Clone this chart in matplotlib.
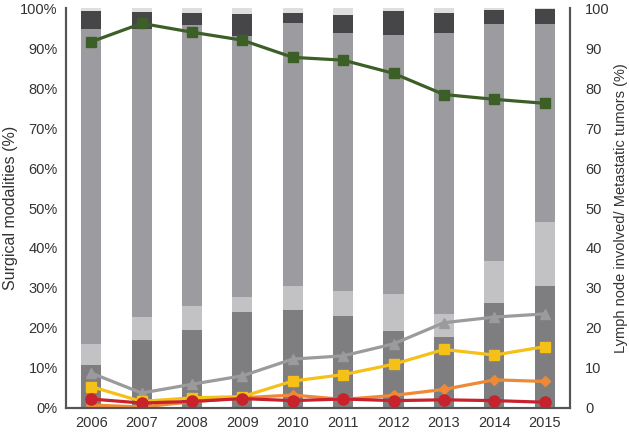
import numpy as np
from matplotlib import pyplot as plt

plt.rcParams['font.family'] = ['Liberation Sans', 'DejaVu Sans']

years = ['2006', '2007', '2008', '2009', '2010', '2011', '2012', '2013', '2014', '2015']

# stacked bar segments, cumulative tops (%)
top_dark = [10.6, 17.0, 19.5, 24.0, 24.5, 23.1, 19.1, 17.7, 26.2, 30.6]
top_light = [16.0, 22.7, 25.5, 27.8, 30.4, 29.3, 28.4, 23.5, 36.8, 46.5]
top_mid = [94.7, 94.8, 95.9, 93.1, 96.2, 93.9, 93.3, 93.8, 96.1, 96.1]
top_black = [99.4, 99.1, 98.7, 98.5, 98.9, 98.4, 99.2, 98.7, 99.5, 99.7]
top_pale = [100] * 10

# line series (right axis, %)
green = [91.6, 96.2, 94.0, 92.0, 87.7, 87.0, 83.7, 78.4, 77.2, 76.2]
grey = [8.7, 3.7, 5.9, 8.0, 12.2, 13.0, 16.0, 21.3, 22.7, 23.5]
yellow = [5.3, 1.6, 2.5, 2.8, 6.7, 8.3, 10.9, 14.6, 13.2, 15.3]
orange = [0.7, 0.2, 1.5, 2.5, 3.2, 2.1, 3.1, 4.6, 7.0, 6.6]
red = [2.2, 1.2, 1.6, 2.3, 1.8, 2.2, 1.8, 2.0, 1.8, 1.4]

x = np.arange(len(years))
fig = plt.figure(figsize=(6.29, 4.32), dpi=100)
ax = fig.add_axes([0.105, 0.056, 0.801, 0.925])

tops = [top_dark, top_light, top_mid, top_black, top_pale]
cols = ['#7e7e80', '#c2c2c4', '#9c9ca0', '#464648', '#dededf']
bottom = np.zeros(len(years))
for t, c in zip(tops, cols):
    t = np.array(t)
    ax.bar(x, t - bottom, bottom=bottom, width=0.4, color=c, zorder=1)
    bottom = t

ax.set_xlim(-0.5, 9.5)
ax.set_ylim(0, 100)
ax.set_yticks(range(0, 101, 10))
ax.set_yticklabels(['%d%%' % v for v in range(0, 101, 10)])
ax.set_xticks(x)
ax.set_xticklabels(years)
ax.set_ylabel('Surgical modalities (%)', fontsize=11.5, color='#333333')
ax.yaxis.set_label_coords(-0.095, 0.5)

ax2 = ax.twinx()
ax2.set_ylim(0, 100)
ax2.set_yticks(range(0, 101, 10))
ax2.plot(x, green, color='#3b5f26', marker='s', ms=7, lw=2.3)
ax2.plot(x, grey, color='#9b9b9d', marker='^', ms=7, lw=2.3)
ax2.plot(x, orange, color='#ee8a36', marker='D', ms=5.5, lw=2.3)
ax2.plot(x, yellow, color='#f5c018', marker='s', ms=7, lw=2.3)
ax2.plot(x, red, color='#c8222c', marker='o', ms=8, lw=2.3)
ax2.set_ylabel('Lymph node involved/ Metastatic tumors (%)', fontsize=10.5,
               color='#333333', rotation=90)
ax2.yaxis.set_label_coords(1.088, 0.5)

for a in (ax, ax2):
    a.spines['top'].set_visible(False)
    for s in ('left', 'right', 'bottom'):
        a.spines[s].set_color('#555555')
        a.spines[s].set_linewidth(1.5)
    a.tick_params(length=0, labelsize=10.5, labelcolor='#333333', pad=6)
ax2.tick_params(pad=11)

fig.savefig('out.png', dpi=100)
